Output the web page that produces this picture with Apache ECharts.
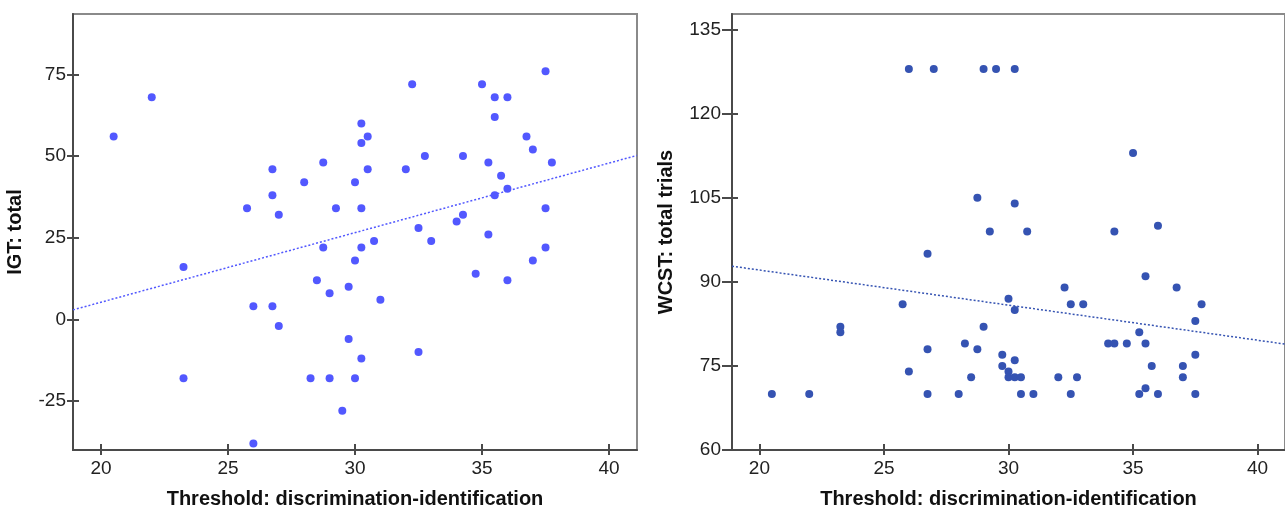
<!DOCTYPE html>
<html>
<head>
<meta charset="utf-8">
<script src="https://cdn.jsdelivr.net/npm/echarts@6/dist/echarts.min.js"></script>
<style>
html,body{margin:0;padding:0;background:#fff;}
#chart{width:1285px;height:514px;}
</style>
</head>
<body>
<div id="chart"></div>
<script>
// ---- Data ----
const igtX = [20.5,22.0,23.25,23.25,25.75,26.0,26.0,26.75,26.75,26.75,27.0,27.0,28.0,28.25,28.5,28.75,28.75,29.0,29.0,29.25,29.5,29.75,29.75,30.0,30.0,30.0,30.25,30.25,30.25,30.25,30.25,30.5,30.5,30.75,31.0,32.0,32.25,32.5,32.5,32.75,33.0,34.0,34.25,34.25,34.75,35.0,35.25,35.25,35.5,35.5,35.5,35.75,36.0,36.0,36.0,36.75,37.0,37.0,37.5,37.5,37.5,37.75];
const igtY = [56,68,16,-18,34,4,-38,46,38,4,32,-2,42,-18,12,48,22,8,-18,34,-28,10,-6,42,18,-18,60,54,34,22,-12,56,46,24,6,46,72,28,-10,50,24,30,50,32,14,72,48,26,68,62,38,44,68,40,12,56,52,18,76,34,22,48];

const wcstX = [20.5,22.0,23.25,23.25,25.75,26.0,26.0,26.75,26.75,26.75,27.0,28.0,28.25,28.5,28.75,28.75,29.0,29.0,29.25,29.5,29.75,29.75,30.0,30.0,30.0,30.25,30.25,30.25,30.25,30.25,30.5,30.5,30.75,31.0,32.0,32.25,32.5,32.5,32.75,33.0,34.0,34.25,34.25,34.75,35.0,35.25,35.25,35.5,35.5,35.5,35.75,36.0,36.0,36.75,37.0,37.0,37.5,37.5,37.5,37.75];
const wcstY = [70,70,82,81,86,128,74,95,78,70,128,70,79,73,105,78,128,82,99,128,77,75,87,74,73,128,104,85,76,73,73,70,99,70,73,89,86,70,73,86,79,79,99,79,113,81,70,91,79,71,75,100,70,89,75,73,83,77,70,86];

// fit lines (end points)
const igtFitX = [18.9, 41.1];
const igtFitY = [2.9, 50.2];
const wcstFitX = [18.9, 41.1];
const wcstFitY = [92.8, 78.9];

// tick labels
const xTicks = [20, 25, 30, 35, 40];
const igtTicks = [-25, 0, 25, 50, 75];
const wcstTicks = [60, 75, 90, 105, 120, 135];

const xTitle = 'Threshold: discrimination-identification';
const igtTitle = 'IGT: total';
const wcstTitle = 'WCST: total trials';

const igtColor = '#5258ff';
const wcstColor = '#3553b2';
const font = 'Liberation Sans, Arial, sans-serif';

function pairs(xs, ys){ return xs.map((x,i)=>[x, ys[i]]); }

function xAxes(grid){
  return [
    {type:'value', gridIndex:grid, min:18.9, max:41.1, position:'bottom',
     name: xTitle, nameLocation:'middle', nameGap:39,
     nameTextStyle:{fontFamily:font, fontSize:20, fontWeight:'bold', color:'#111'},
     axisLine:{show:true, onZero:false, lineStyle:{color:'#4a4a4a', width:2}},
     axisTick:{show:true, inside:false, length:5, customValues:xTicks, lineStyle:{color:'#4a4a4a', width:2}},
     axisLabel:{show:true, customValues:xTicks, margin:9, fontFamily:font, fontSize:19, color:'#222'},
     splitLine:{show:false}},
    {type:'value', gridIndex:grid, min:18.9, max:41.1, position:'bottom',
     axisLine:{show:false, onZero:false},
     axisTick:{show:true, inside:true, length:6, customValues:xTicks, lineStyle:{color:'#4a4a4a', width:2}},
     axisLabel:{show:false}, splitLine:{show:false}}
  ];
}
function yAxes(grid, min, max, ticks, title, gap, margin, outLen){
  return [
    {type:'value', gridIndex:grid, min:min, max:max, position:'left',
     name:title, nameLocation:'middle', nameGap:gap, nameRotate:90,
     nameTextStyle:{fontFamily:font, fontSize:20, fontWeight:'bold', color:'#111'},
     axisLine:{show:true, onZero:false, lineStyle:{color:'#4a4a4a', width:2}},
     axisTick:{show:true, inside:false, length:outLen, customValues:ticks, lineStyle:{color:'#4a4a4a', width:2}},
     axisLabel:{show:true, customValues:ticks, margin:margin, fontFamily:font, fontSize:19, color:'#222'},
     splitLine:{show:false}},
    {type:'value', gridIndex:grid, min:min, max:max, position:'left',
     axisLine:{show:false, onZero:false},
     axisTick:{show:true, inside:true, length:6, customValues:ticks, lineStyle:{color:'#4a4a4a', width:2}},
     axisLabel:{show:false}, splitLine:{show:false}}
  ];
}

const chart = echarts.init(document.getElementById('chart'), null, {renderer:'canvas'});
chart.setOption({
  backgroundColor:'#fff',
  animation:false,
  grid:[
    {left:73, top:14, width:564, height:441, show:true, borderColor:'#8a8a8a', borderWidth:2, backgroundColor:'transparent'},
    {left:732, top:14, width:559, height:441, show:true, borderColor:'#8a8a8a', borderWidth:2, backgroundColor:'transparent'}
  ],
  xAxis: xAxes(0).concat(xAxes(1)),
  yAxis: yAxes(0, -40, 93.5, igtTicks, igtTitle, 48, 7, 6).concat(yAxes(1, 60, 137.8, wcstTicks, wcstTitle, 56, 11, 10)),
  series:[
    {type:'line', xAxisIndex:0, yAxisIndex:0, data:pairs(igtFitX, igtFitY), symbol:'none', silent:true,
     lineStyle:{color:igtColor, width:1.5, type:[2,2], opacity:1}, z:1},
    {type:'scatter', xAxisIndex:0, yAxisIndex:0, data:pairs(igtX, igtY), symbolSize:8,
     itemStyle:{color:igtColor, opacity:1}, z:2},
    {type:'line', xAxisIndex:2, yAxisIndex:2, data:pairs(wcstFitX, wcstFitY), symbol:'none', silent:true,
     lineStyle:{color:wcstColor, width:1.5, type:[2,2], opacity:1}, z:1},
    {type:'scatter', xAxisIndex:2, yAxisIndex:2, data:pairs(wcstX, wcstY), symbolSize:8,
     itemStyle:{color:wcstColor, opacity:1}, z:2}
  ]
});
</script>
</body>
</html>
